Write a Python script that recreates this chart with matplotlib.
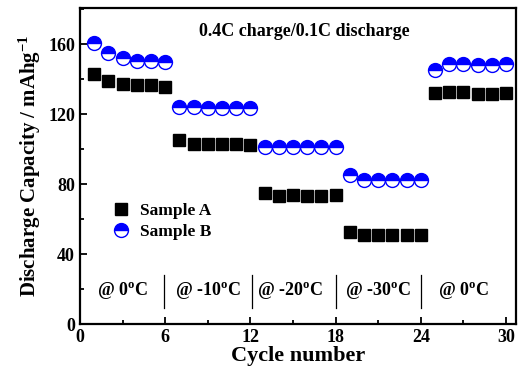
import numpy as np
import matplotlib.pyplot as plt
from matplotlib.ticker import MultipleLocator

plt.rcParams['font.family'] = ['Liberation Serif', 'DejaVu Serif']
plt.rcParams['font.weight'] = 'bold'
plt.rcParams['mathtext.fontset'] = 'custom'
plt.rcParams['mathtext.rm'] = 'Liberation Serif:bold'
plt.rcParams['mathtext.it'] = 'Liberation Serif:bold'
plt.rcParams['mathtext.bf'] = 'Liberation Serif:bold'

cycles = np.arange(1, 31)
sample_a = [142.9, 138.9, 137.1, 136.7, 136.4, 135.3,
            105.1, 103.2, 103.1, 103.0, 102.8, 102.6,
            75.0, 73.4, 73.6, 73.5, 73.3, 73.6,
            52.5, 51.0, 50.8, 51.1, 51.0, 51.0,
            131.8, 132.8, 132.8, 131.4, 131.4, 132.0]
sample_b = [160.4, 154.7, 151.8, 150.5, 150.5, 149.9,
            124.3, 123.8, 123.7, 123.7, 123.7, 123.7,
            101.3, 101.0, 101.0, 101.0, 101.2, 101.0,
            85.1, 82.6, 82.3, 82.3, 82.3, 82.3,
            145.1, 148.4, 148.8, 148.2, 148.2, 148.4]
regions = ['@ 0$^{\\rm o}$C', '@ -10$^{\\rm o}$C', '@ -20$^{\\rm o}$C',
           '@ -30$^{\\rm o}$C', '@ 0$^{\\rm o}$C']
region_x = [3.0, 9.0, 14.8, 21.0, 27.0]
dividers = [5.9, 12.1, 18.0, 24.0]

fig = plt.figure(figsize=(5.26, 3.76), dpi=100)
ax = fig.add_axes([0.152, 0.138, 0.829, 0.840])

ax.plot(cycles, sample_a, 's', color='black', ms=9, label='Sample A', zorder=3)
ax.plot(cycles, sample_b, 'o', ms=10, markerfacecolor='blue', markerfacecoloralt='white',
        fillstyle='top', markeredgecolor='blue', markeredgewidth=1.0, label='Sample B', zorder=3)

for d in dividers:
    ax.plot([d, d], [9, 28], color='black', lw=0.9)
for x, t in zip(region_x, regions):
    ax.text(x, 19, t, ha='center', va='center', fontsize=13, fontweight='bold')

ax.text(0.515, 0.925, '0.4C charge/0.1C discharge', transform=ax.transAxes,
        ha='center', va='center', fontsize=13, fontweight='bold')

ax.set_xlim(0, 30.7)
ax.set_ylim(0, 180.5)
ax.xaxis.set_major_locator(MultipleLocator(6))
ax.xaxis.set_minor_locator(MultipleLocator(3))
ax.yaxis.set_major_locator(MultipleLocator(40))
ax.yaxis.set_minor_locator(MultipleLocator(20))
ax.tick_params(which='both', direction='in', width=1.3, labelsize=13)
ax.tick_params(which='major', length=5)
ax.tick_params(which='minor', length=3)
for s in ax.spines.values():
    s.set_linewidth(1.6)

ax.set_xlabel('Cycle number', fontsize=16, fontweight='bold', labelpad=0)
ax.set_ylabel('Discharge Capacity / mAhg$^{-1}$', fontsize=15, fontweight='bold', labelpad=4)

ax.legend(loc='upper left', bbox_to_anchor=(0.055, 0.405), frameon=False, fontsize=12.5,
          handletextpad=0.5, labelspacing=0.25, borderaxespad=0, handlelength=1.2)

fig.savefig('out.png', dpi=100)
